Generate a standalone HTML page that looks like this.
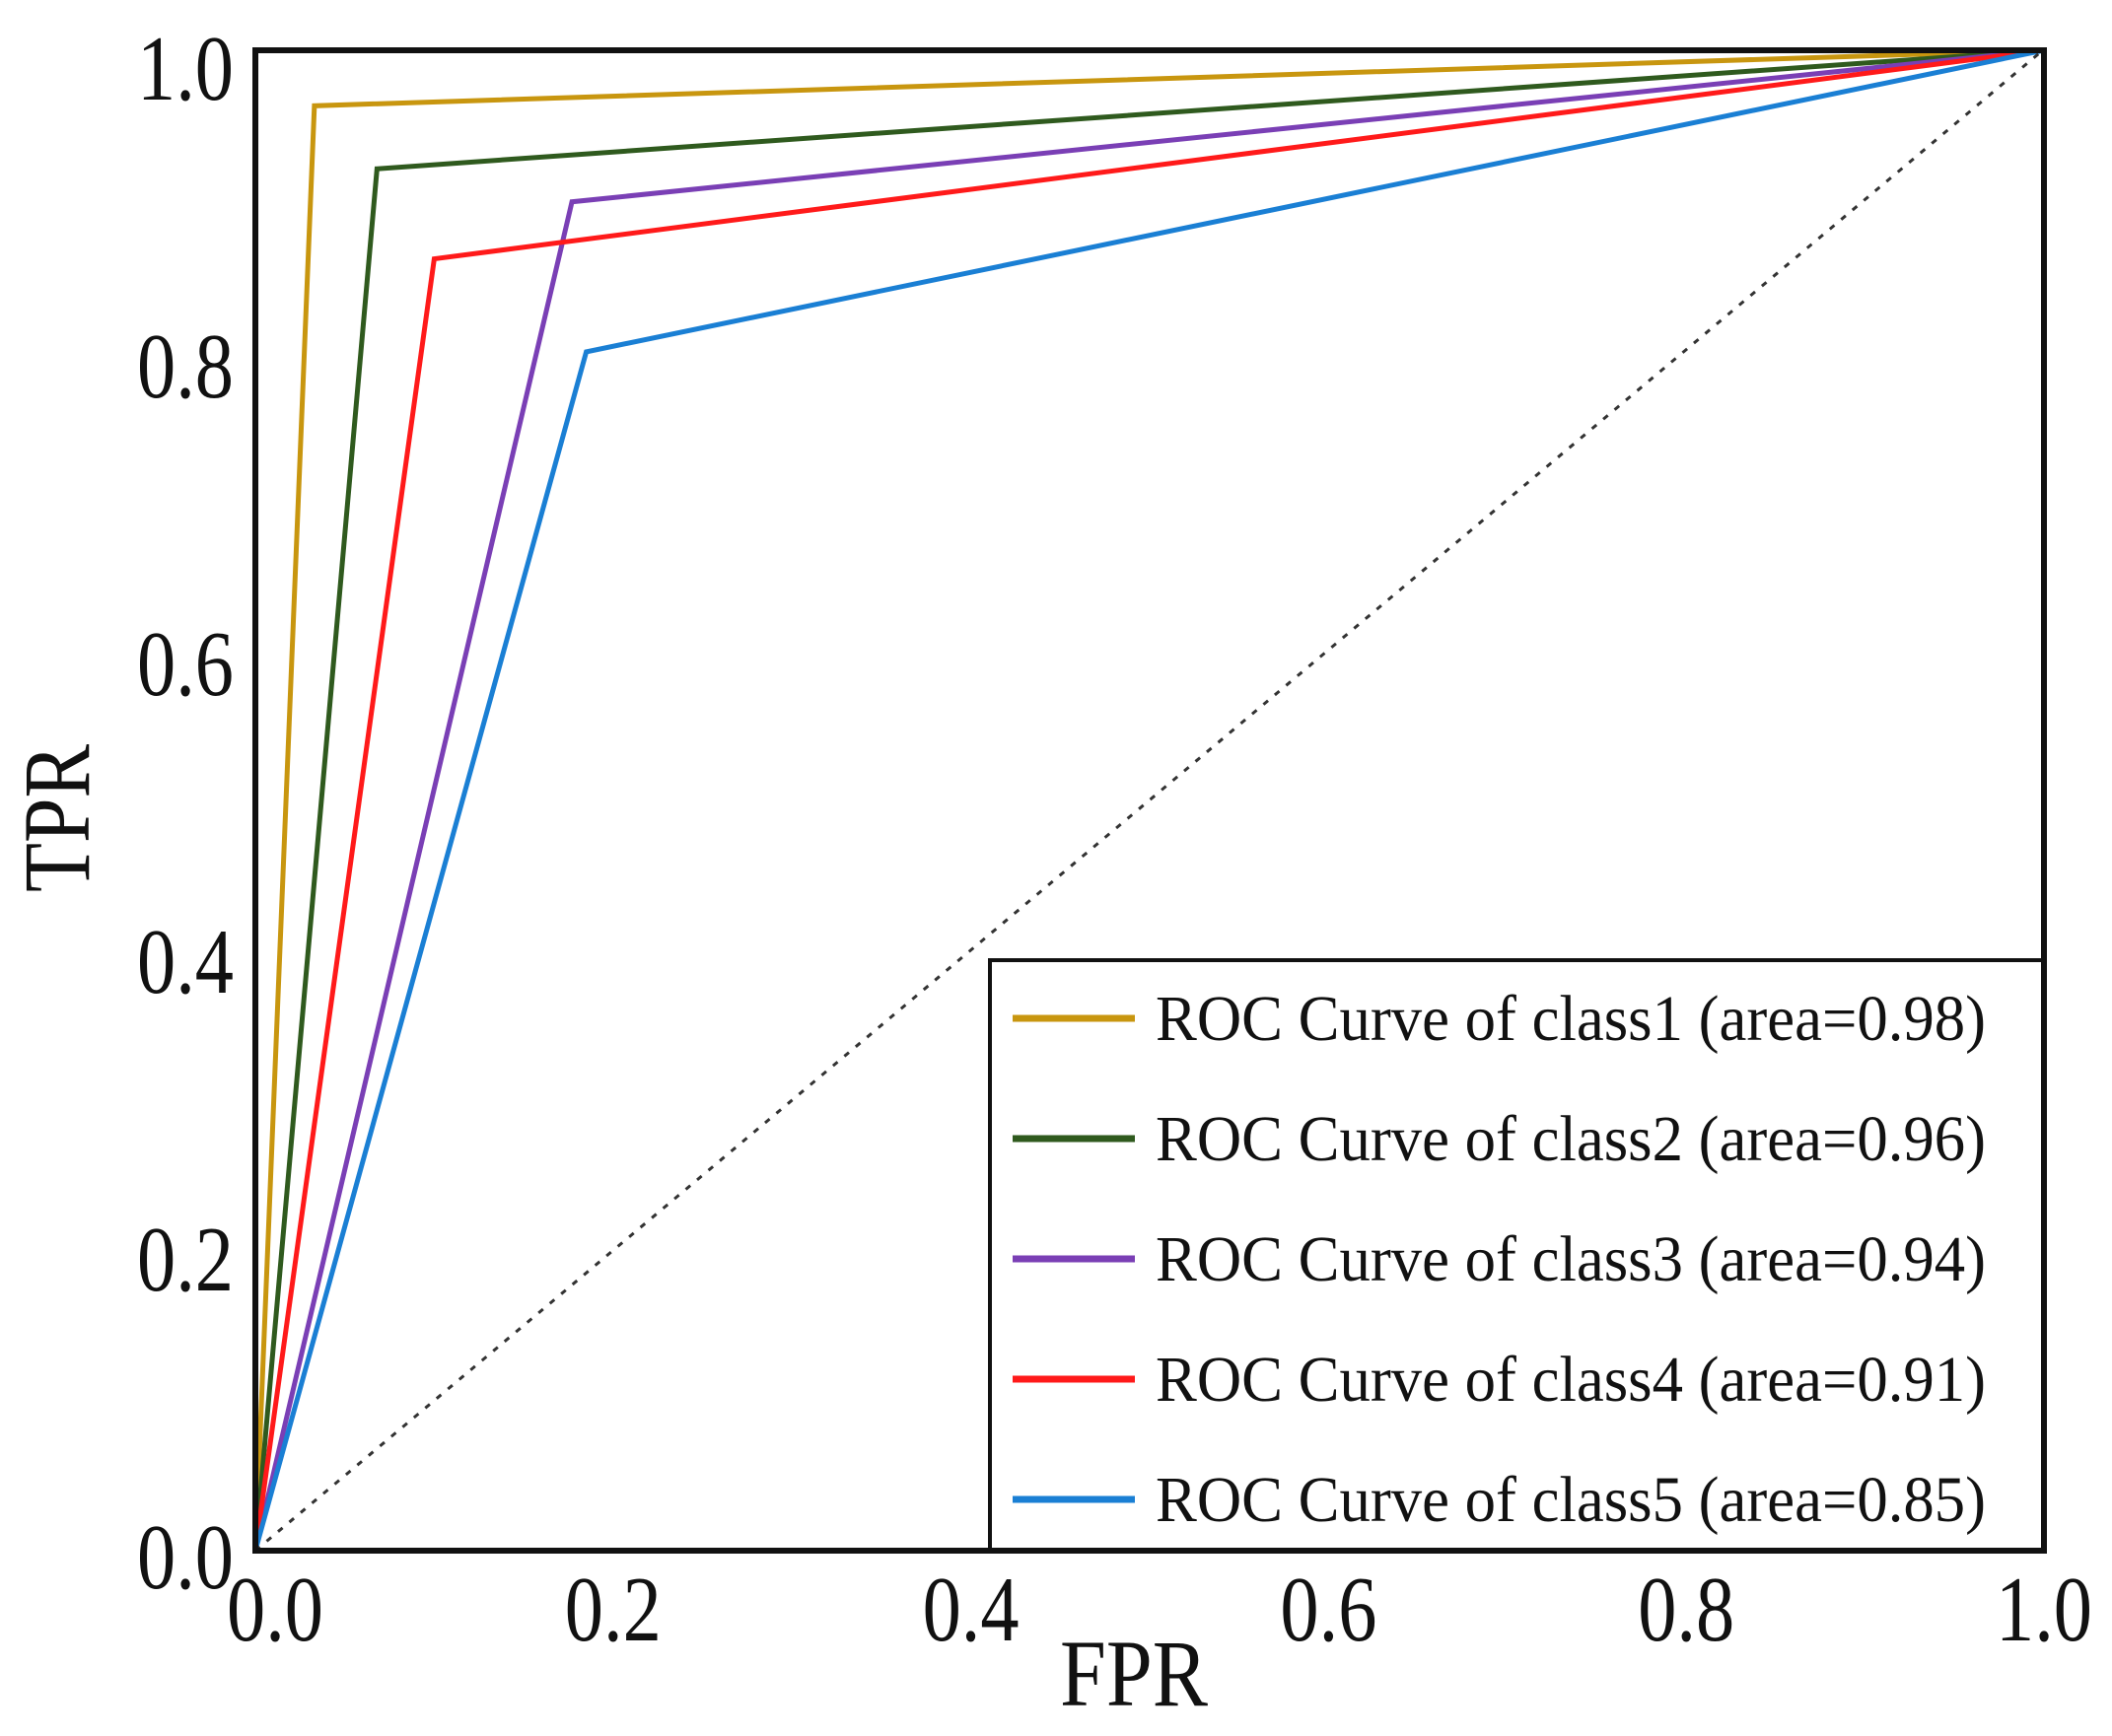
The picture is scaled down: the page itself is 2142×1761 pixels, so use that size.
<!DOCTYPE html>
<html><head><meta charset="utf-8"><style>
html,body{margin:0;padding:0;background:#fff}
svg{display:block}
text{font-family:"Liberation Serif","Times New Roman",serif;fill:#111}
</style></head><body>
<svg id="chart" width="2142" height="1761" viewBox="0 0 2142 1761">
<g id="series"></g>
<line x1="259" y1="1573" x2="2073" y2="50" stroke="#333" stroke-width="3" stroke-dasharray="6 9"/>
<g id="legend"></g>
<rect x="259" y="51" width="1814" height="1522" fill="none" stroke="#111" stroke-width="6"/>
<g id="ticks"></g>
<text x="1150" y="1730" font-size="96" text-anchor="middle" textLength="150" lengthAdjust="spacingAndGlyphs">FPR</text>
<text transform="translate(90,830) rotate(-90)" font-size="96" text-anchor="middle" textLength="150" lengthAdjust="spacingAndGlyphs">TPR</text>
</svg>
<script>
const classNames=["class1","class2","class3","class4","class5"];
const areas=["0.98","0.96","0.94","0.91","0.85"];
const colors=["#c8960f","#2f5a1e","#7a3fb5","#ff1a1a","#1a7fd4"];
const fprPoints=[[0,0.033,1],[0,0.068,1],[0,0.177,1],[0,0.100,1],[0,0.185,1]];
const tprPoints=[[0,0.963,1],[0,0.921,1],[0,0.899,1],[0,0.861,1],[0,0.799,1]];
const tickValues=[0,0.2,0.4,0.6,0.8,1.0];
const tickLabels=["0.0","0.2","0.4","0.6","0.8","1.0"];
const NS="http://www.w3.org/2000/svg";
const L=259,R=2073,T=51,B=1573;
function xs(v){return L+v*(R-L);}
function ys(v){return B-v*(B-T);}
const sg=document.getElementById('series');
classNames.forEach((c,i)=>{
  const p=document.createElementNS(NS,'polyline');
  p.setAttribute('points',fprPoints[i].map((x,j)=>xs(x)+','+ys(tprPoints[i][j])).join(' '));
  p.setAttribute('fill','none');p.setAttribute('stroke',colors[i]);p.setAttribute('stroke-width','5');
  
  
  sg.appendChild(p);
});
const lg=document.getElementById('legend');
const box=document.createElementNS(NS,'rect');
box.setAttribute('x','1004');box.setAttribute('y','974');box.setAttribute('width','1069');box.setAttribute('height','599');
box.setAttribute('fill','#fff');box.setAttribute('stroke','#111');box.setAttribute('stroke-width','4');


lg.appendChild(box);
classNames.forEach((c,i)=>{
  const y=1033+i*122;
  const ln=document.createElementNS(NS,'line');
  ln.setAttribute('x1','1027');ln.setAttribute('x2','1151');ln.setAttribute('y1',y);ln.setAttribute('y2',y);
  ln.setAttribute('stroke',colors[i]);ln.setAttribute('stroke-width','7');
  
  
  lg.appendChild(ln);
  const t=document.createElementNS(NS,'text');
  t.setAttribute('x','1172');t.setAttribute('y',y+22);t.setAttribute('font-size','66');
  t.setAttribute('textLength','842');t.setAttribute('lengthAdjust','spacingAndGlyphs');
  t.textContent='ROC Curve of '+c+' (area='+areas[i]+')';
  
  
  lg.appendChild(t);
});
const tg=document.getElementById('ticks');
tickValues.forEach((v,i)=>{
  const tx=document.createElementNS(NS,'text');
  tx.setAttribute('x',xs(v)+(i===0?20:0));tx.setAttribute('y','1664');tx.setAttribute('font-size','94');
  tx.setAttribute('text-anchor','middle');tx.setAttribute('textLength','98');tx.setAttribute('lengthAdjust','spacingAndGlyphs');
  tx.textContent=tickLabels[i];
  
  
  tg.appendChild(tx);
  const ty=document.createElementNS(NS,'text');
  ty.setAttribute('x','237');ty.setAttribute('y',ys(v)+50-(1-v)*12);ty.setAttribute('font-size','94');
  ty.setAttribute('text-anchor','end');ty.setAttribute('textLength','98');ty.setAttribute('lengthAdjust','spacingAndGlyphs');
  ty.textContent=tickLabels[i];
  
  
  tg.appendChild(ty);
});
</script>
</body></html>
